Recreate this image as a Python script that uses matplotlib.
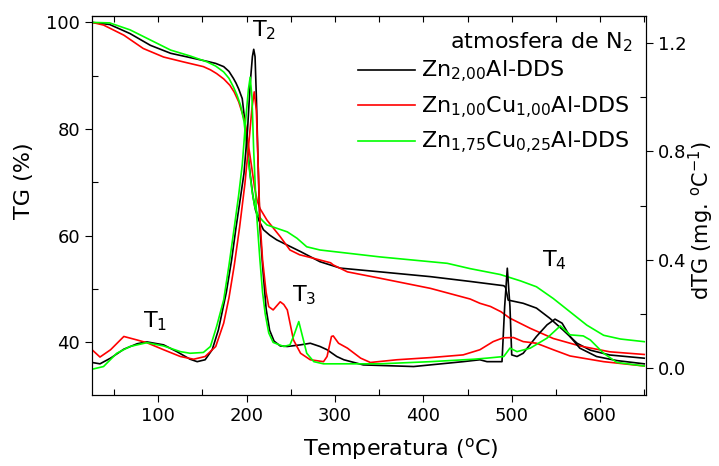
import numpy as np
import matplotlib
matplotlib.use("Agg")
import matplotlib.pyplot as plt
from matplotlib.ticker import MultipleLocator


plt.rcParams["font.family"] = ["DejaVu Sans"]
plt.rcParams["mathtext.default"] = "regular"


# data collect
labels = ["Zn$_{2{,}00}$Al-DDS",
          "Zn$_{1{,}00}$Cu$_{1{,}00}$Al-DDS",
          "Zn$_{1{,}75}$Cu$_{0{,}25}$Al-DDS"]
colors = ["black", "#ff0000", "#00ff00"]

# TG curves (temperature, %)
t_tg_zn = [25, 45, 68, 91, 114, 136, 155, 165, 174, 180, 185, 188, 191, 195, 198, 201, 204,
           207, 210, 214, 219, 226, 234, 261, 283, 306, 351, 408, 453, 491, 493, 496, 513,
           528, 543, 558, 574, 589, 611, 650]
tg_zn = [100.0, 99.6, 97.9, 95.7, 94.2, 93.4, 92.7, 92.3, 91.7, 90.8, 89.5, 88.6, 87.5,
         85.7, 81.4, 76.5, 71.5, 67.5, 64.8, 62.8, 61.1, 60.1, 59.2, 57.0, 55.1, 53.9, 53.2,
         52.3, 51.4, 50.6, 50.3, 47.9, 47.3, 46.4, 44.5, 42.3, 39.8, 38.5, 37.6, 37.0]

t_tg_cu100 = [25, 38, 61, 83, 106, 128, 151, 159, 166, 174, 181, 186, 191, 198, 202, 206,
              209, 212, 215, 219, 223, 238, 249, 260, 272, 295, 298, 314, 351, 408, 453, 464,
              476, 488, 498, 521, 547, 577, 611, 650]
tg_cu100 = [100.0, 99.5, 97.6, 95.1, 93.5, 92.6, 91.7, 91.1, 90.4, 89.4, 88.2, 86.9, 85.1,
            81.4, 77.0, 72.5, 69.0, 66.5, 65.1, 64.0, 62.9, 59.8, 57.3, 56.4, 55.9, 54.9,
            54.5, 53.2, 52.0, 50.1, 48.1, 47.3, 46.7, 45.7, 44.5, 42.6, 40.7, 39.3, 38.2, 37.7]

t_tg_cu025 = [25, 45, 68, 91, 114, 136, 155, 165, 174, 180, 185, 189, 193, 197, 200, 203,
              206, 209, 213, 218, 223, 246, 257, 268, 283, 351, 427, 453, 487, 510, 528, 547,
              566, 585, 604, 623, 650]
tg_cu025 = [100.0, 99.9, 98.6, 96.7, 94.8, 93.7, 92.6, 91.8, 90.7, 89.5, 87.9, 86.4, 84.5,
            81.4, 77.0, 72.5, 68.5, 65.5, 63.8, 62.8, 62.0, 60.7, 59.5, 57.9, 57.3, 56.0,
            54.8, 53.8, 52.7, 51.5, 50.4, 48.2, 45.7, 43.2, 41.3, 40.6, 40.1]

# dTG curves (temperature, mg/°C)
t_dtg_zn = [25, 34, 46, 61, 76, 87, 106, 121, 136, 144, 153, 161, 168, 177, 183, 188, 193,
            197, 201, 204, 206.5, 208, 209.5, 211, 213, 215, 218, 222, 226, 231, 238, 246,
            261, 272, 283, 291, 302, 310, 332, 389, 445, 464, 472, 489, 492, 495, 498, 500,
            506, 513, 528, 540, 549, 557, 566, 577, 596, 619, 650]
dtg_zn = [0.021, 0.016, 0.037, 0.070, 0.090, 0.097, 0.086, 0.061, 0.033, 0.024, 0.031,
          0.068, 0.141, 0.28, 0.40, 0.52, 0.63, 0.72, 0.88, 1.05, 1.15, 1.177, 1.15, 1.00,
          0.75, 0.52, 0.38, 0.22, 0.14, 0.10, 0.082, 0.080, 0.086, 0.092, 0.080, 0.068,
          0.043, 0.031, 0.012, 0.006, 0.024, 0.031, 0.024, 0.024, 0.227, 0.369, 0.227,
          0.049, 0.043, 0.055, 0.117, 0.160, 0.181, 0.166, 0.117, 0.074, 0.043, 0.028, 0.016]

t_dtg_cu100 = [25, 34, 46, 61, 76, 87, 106, 125, 140, 153, 165, 174, 180, 186, 192, 198,
               203, 206, 208.6, 211, 213, 215, 218, 222, 225, 230, 238, 242, 246, 253, 261,
               272, 287, 291, 296, 298, 304, 314, 329, 340, 370, 408, 445, 464, 479, 487,
               491, 502, 513, 528, 547, 566, 604, 650]
dtg_cu100 = [0.068, 0.041, 0.068, 0.117, 0.104, 0.094, 0.068, 0.043, 0.033, 0.043, 0.080,
             0.166, 0.26, 0.38, 0.52, 0.68, 0.85, 0.96, 1.02, 0.95, 0.75, 0.55, 0.40, 0.28,
             0.227, 0.215, 0.245, 0.235, 0.215, 0.104, 0.055, 0.031, 0.024, 0.043, 0.117,
             0.119, 0.092, 0.074, 0.037, 0.021, 0.031, 0.039, 0.049, 0.068, 0.098, 0.108,
             0.112, 0.113, 0.098, 0.092, 0.068, 0.045, 0.024, 0.008]

t_dtg_cu025 = [25, 38, 53, 68, 87, 106, 125, 136, 151, 159, 166, 174, 180, 186, 191, 195,
               199, 202, 204, 206, 208, 211, 215, 218, 221, 225, 230, 242, 249, 253, 259,
               263, 268, 276, 287, 351, 408, 457, 472, 491, 498, 506, 521, 540, 555, 566,
               581, 589, 604, 619, 650]
dtg_cu025 = [-0.004, 0.006, 0.055, 0.080, 0.094, 0.082, 0.061, 0.055, 0.058, 0.080, 0.154,
             0.252, 0.38, 0.52, 0.64, 0.75, 0.92, 1.03, 1.074, 1.00, 0.80, 0.58, 0.40, 0.28,
             0.20, 0.13, 0.095, 0.080, 0.086, 0.117, 0.172, 0.12, 0.055, 0.024, 0.016,
             0.016, 0.024, 0.033, 0.037, 0.043, 0.074, 0.061, 0.074, 0.111, 0.156, 0.123,
             0.119, 0.104, 0.055, 0.021, 0.008]

tg_series = [(t_tg_zn, tg_zn), (t_tg_cu100, tg_cu100), (t_tg_cu025, tg_cu025)]
dtg_series = [(t_dtg_zn, dtg_zn), (t_dtg_cu100, dtg_cu100), (t_dtg_cu025, dtg_cu025)]


# plot figure
fig = plt.figure(figsize=(7.19, 4.66), dpi=100)
ax = fig.add_axes([0.128, 0.1524, 0.7705, 0.8133])
ax2 = ax.twinx()

handles = []
for (t, v), c, lab in zip(tg_series, colors, labels):
    h, = ax.plot(t, v, color=c, lw=1.2, label=lab)
    handles.append(h)
for (t, v), c in zip(dtg_series, colors):
    ax2.plot(t, v, color=c, lw=1.2)

ax.set_xlim(25, 652)
ax.set_ylim(30.1, 101.2)
ax2.set_ylim(-0.099, 1.30)

ax.set_xticks([100, 200, 300, 400, 500, 600])
ax.xaxis.set_minor_locator(MultipleLocator(50))
ax.set_yticks([40, 60, 80, 100])
ax.yaxis.set_minor_locator(MultipleLocator(10))
ax2.set_yticks([0.0, 0.4, 0.8, 1.2])
ax2.yaxis.set_minor_locator(MultipleLocator(0.2))

ax.tick_params(which="major", direction="out", length=5, width=0.8, labelsize=13)
ax.tick_params(which="minor", direction="in", length=4, width=0.8)
ax2.tick_params(which="major", direction="out", length=5, width=0.8, labelsize=13)
ax2.tick_params(which="minor", direction="in", length=4, width=0.8)

top = ax.secondary_xaxis("top")
top.set_xticks([100, 200, 300, 400, 500, 600])
top.xaxis.set_minor_locator(MultipleLocator(50))
top.tick_params(which="both", direction="in", length=4, width=0.8, labeltop=False)

for a in (ax, ax2):
    for s in a.spines.values():
        s.set_linewidth(0.8)

ax.set_xlabel("Temperatura ($^{o}$C)", fontsize=16, labelpad=8)
ax.xaxis.label.set_x(0.558)
ax.set_ylabel("TG (%)", fontsize=16, labelpad=9)
ax.yaxis.label.set_y(0.565)
ax2.set_ylabel("dTG (mg. $^{o}$C$^{-1}$)", fontsize=15, labelpad=0)
ax2.yaxis.label.set_y(0.46)

ax2.text(83, 0.152, "T$_1$", fontsize=16, ha="left", va="baseline")
ax2.text(206, 1.224, "T$_2$", fontsize=16, ha="left", va="baseline")
ax2.text(251, 0.246, "T$_3$", fontsize=16, ha="left", va="baseline")
ax2.text(534, 0.375, "T$_4$", fontsize=16, ha="left", va="baseline")

# legend title as separate text, entries below it
ax2.text(0.9765, 0.915, "atmosfera de N$_2$", fontsize=16, ha="right", va="baseline",
         transform=ax2.transAxes)
leg = ax2.legend(handles=handles, loc="upper right", bbox_to_anchor=(0.97, 0.887),
                 frameon=False, fontsize=16, handlelength=2.6, handletextpad=0.25,
                 labelspacing=0.42, borderaxespad=0, borderpad=0)

plt.savefig("out.png", dpi=100)
